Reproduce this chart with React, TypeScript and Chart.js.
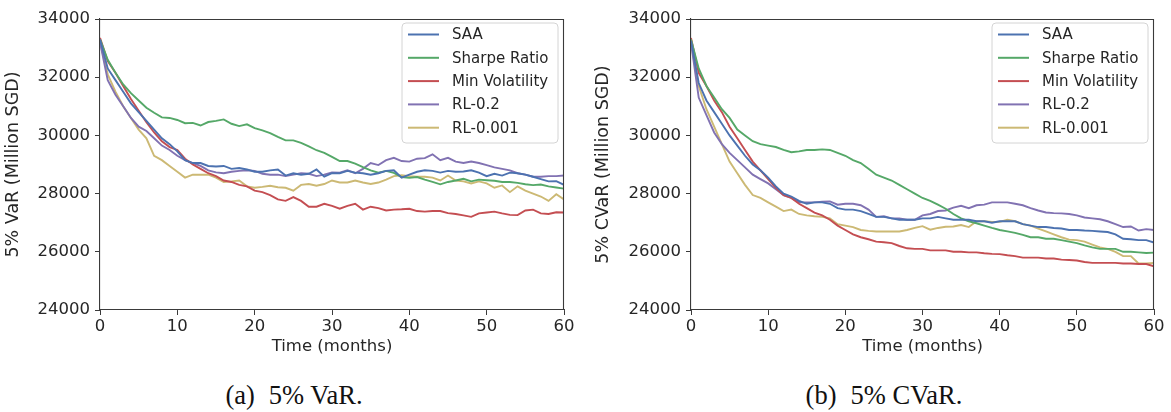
import React, { useEffect, useRef } from "react";
import { Chart, registerables } from "chart.js";

Chart.register(...registerables);

const months = [
  0, 1, 2, 3, 4, 5, 6, 7, 8, 9, 10, 11, 12, 13, 14, 15, 16, 17, 18, 19, 20,
  21, 22, 23, 24, 25, 26, 27, 28, 29, 30, 31, 32, 33, 34, 35, 36, 37, 38, 39, 40,
  41, 42, 43, 44, 45, 46, 47, 48, 49, 50, 51, 52, 53, 54, 55, 56, 57, 58, 59, 60,
];

const seriesNames = ["SAA", "Sharpe Ratio", "Min Volatility", "RL-0.2", "RL-0.001"];
const seriesColors = ["#4C72B0", "#55A868", "#C44E52", "#8172B2", "#CCB974"];

const yTicks = [24000, 26000, 28000, 30000, 32000, 34000];
const xTicks = [0, 10, 20, 30, 40, 50, 60];

// ---- 5% VaR ----
const varSAA = [
  33300, 32300, 31900, 31500, 31100, 30800, 30500, 30200, 29900, 29700, 29450,
  29150, 29050, 29050, 28950, 28930, 28950, 28850, 28880, 28830, 28750,
  28750, 28800, 28830, 28620, 28700, 28650, 28680, 28830, 28580, 28700,
  28700, 28780, 28720, 28700, 28650, 28700, 28780, 28800, 28550, 28650,
  28750, 28800, 28780, 28720, 28780, 28750, 28760, 28800, 28720, 28600,
  28680, 28620, 28720, 28700, 28650, 28580, 28500, 28420, 28430, 28300,
];
const varSharpe = [
  33300, 32600, 32150, 31750, 31450, 31200, 30950, 30780, 30620, 30600, 30530,
  30420, 30430, 30340, 30460, 30500, 30550, 30400, 30320, 30380, 30250,
  30170, 30080, 29950, 29830, 29830, 29740, 29620, 29490, 29400, 29260,
  29120, 29120, 29030, 28910, 28800, 28720, 28780, 28710, 28570, 28540,
  28570, 28480, 28400, 28320, 28400, 28450, 28510, 28420, 28480, 28460,
  28440, 28400, 28400, 28370, 28320, 28290, 28310, 28250, 28210, 28170,
];
const varMinVol = [
  33350, 32550, 32150, 31700, 31250, 30850, 30450, 30100, 29800, 29600, 29500,
  29200, 29000, 28850, 28700, 28600, 28450, 28400, 28300, 28250, 28100,
  28050, 27950, 27800, 27750, 27880, 27750, 27550, 27550, 27650, 27580,
  27480, 27580, 27650, 27450, 27550, 27500, 27420, 27450, 27460, 27480,
  27400, 27380, 27400, 27400, 27330, 27300, 27250, 27200, 27320, 27350,
  27380, 27320, 27270, 27260, 27420, 27450, 27320, 27300, 27360, 27350,
];
const varRL02 = [
  33200, 31900, 31400, 31000, 30600, 30300, 30150, 29900, 29650, 29500, 29300,
  29150, 29050, 28950, 28800, 28730, 28700, 28750, 28780, 28800, 28780,
  28680, 28650, 28650, 28600, 28650, 28700, 28680, 28600, 28650, 28730,
  28720, 28800, 28700, 28850, 29050, 28980, 29150, 29230, 29120, 29100,
  29200, 29220, 29350, 29150, 29230, 29100, 29050, 29100, 29050, 28980,
  28900, 28850, 28800, 28700, 28650, 28580, 28580, 28600, 28600, 28620,
];
const varRL0001 = [
  33200, 32100, 31500, 31000, 30600, 30200, 29900, 29300, 29150, 28950, 28750,
  28550, 28650, 28650, 28650, 28550, 28400, 28420, 28450, 28250, 28200,
  28230, 28270, 28220, 28200, 28100, 28300, 28330, 28270, 28330, 28450,
  28380, 28380, 28450, 28380, 28330, 28380, 28480, 28600, 28630, 28600,
  28580, 28580, 28550, 28450, 28620, 28450, 28420, 28350, 28420, 28350,
  28200, 28280, 28050, 28250, 28100, 28000, 27900, 27750, 27980, 27800,
];

// ---- 5% CVaR ----
const cvarSAA = [
  33250, 31800, 31200, 30800, 30400, 30000, 29650, 29300, 29000, 28800, 28550,
  28250, 28000, 27900, 27750, 27650, 27700, 27700, 27650, 27500, 27450,
  27450, 27400, 27300, 27200, 27200, 27150, 27100, 27100, 27100, 27150,
  27150, 27200, 27150, 27100, 27100, 27100, 27050, 27050, 27000, 27050,
  27050, 27050, 26950, 26900, 26850, 26850, 26820, 26800, 26750, 26750,
  26730, 26720, 26700, 26680, 26600, 26450, 26430, 26400, 26400, 26320,
];
const cvarSharpe = [
  33300, 32300, 31700, 31300, 30900, 30600, 30200, 30000, 29800, 29700, 29650,
  29600, 29500, 29420, 29450, 29500, 29500, 29520, 29500, 29400, 29300,
  29150, 29050, 28850, 28650, 28550, 28450, 28300, 28150, 28000, 27850,
  27750, 27620, 27480, 27300, 27150, 27050, 26980, 26900, 26820, 26750,
  26700, 26650, 26580, 26500, 26500, 26450, 26450, 26400, 26350, 26300,
  26220, 26150, 26100, 26100, 26100, 26000, 26000, 25980, 25960, 25970,
];
const cvarMinVol = [
  33350, 32150, 31700, 31200, 30800, 30300, 29900, 29500, 29100, 28800, 28500,
  28200, 27950, 27850, 27650, 27500, 27350, 27250, 27100, 26900, 26750,
  26600, 26500, 26430, 26350, 26330, 26300, 26200, 26120, 26100, 26100,
  26050, 26050, 26050, 26000, 26000, 25980, 25980, 25950, 25930, 25920,
  25880, 25850, 25800, 25800, 25800, 25770, 25770, 25730, 25720, 25700,
  25650, 25620, 25620, 25620, 25620, 25600, 25600, 25580, 25580, 25500,
];
const cvarRL02 = [
  33200, 31300, 30700, 30100, 29700, 29400, 29150, 28900, 28650, 28500, 28350,
  28150, 27950, 27850, 27700, 27700, 27700, 27720, 27730, 27620, 27650,
  27650, 27600, 27450, 27200, 27220, 27150, 27150, 27100, 27100, 27250,
  27300, 27400, 27420, 27520, 27580, 27500, 27600, 27620, 27700, 27700,
  27700, 27650, 27600, 27500, 27420, 27350, 27330, 27320, 27300, 27250,
  27180, 27150, 27120, 27050, 26950, 26850, 26870, 26730, 26780, 26750,
];
const cvarRL0001 = [
  33150, 31700, 30900, 30300, 29700, 29100, 28700, 28300, 27950, 27850, 27700,
  27550, 27400, 27450, 27300, 27250, 27220, 27200, 27150, 26950, 26900,
  26850, 26750, 26720, 26700, 26700, 26700, 26700, 26750, 26820, 26880,
  26760, 26820, 26860, 26870, 26920, 26850, 27050, 27050, 27030, 27030,
  27100, 27050, 26950, 26900, 26800, 26700, 26600, 26500, 26420, 26400,
  26350, 26250, 26150, 26100, 26000, 25850, 25850, 25600, 25600, 25620,
];

const varSeries = [varSAA, varSharpe, varMinVol, varRL02, varRL0001];
const cvarSeries = [cvarSAA, cvarSharpe, cvarMinVol, cvarRL02, cvarRL0001];

const SANS = "'DejaVu Sans', sans-serif";

const framePlugin = {
  id: "frameAndLegend",
  afterDatasetsDraw(chart: any) {
    const { ctx, chartArea } = chart;
    const { left, right, top, bottom } = chartArea;
    ctx.save();
    // top and right spines
    ctx.strokeStyle = "#3a3a3a";
    ctx.lineWidth = 1.1;
    ctx.beginPath();
    ctx.moveTo(left, top + 0.5);
    ctx.lineTo(right, top + 0.5);
    ctx.moveTo(right - 0.5, top);
    ctx.lineTo(right - 0.5, bottom);
    ctx.stroke();

    // legend box (upper right)
    const boxW = 156;
    const boxH = 120;
    const bx = right - 6 - boxW;
    const by = top + 4;
    const r = 4;
    ctx.beginPath();
    ctx.moveTo(bx + r, by);
    ctx.lineTo(bx + boxW - r, by);
    ctx.quadraticCurveTo(bx + boxW, by, bx + boxW, by + r);
    ctx.lineTo(bx + boxW, by + boxH - r);
    ctx.quadraticCurveTo(bx + boxW, by + boxH, bx + boxW - r, by + boxH);
    ctx.lineTo(bx + r, by + boxH);
    ctx.quadraticCurveTo(bx, by + boxH, bx, by + boxH - r);
    ctx.lineTo(bx, by + r);
    ctx.quadraticCurveTo(bx, by, bx + r, by);
    ctx.closePath();
    ctx.fillStyle = "rgba(255,255,255,0.85)";
    ctx.fill();
    ctx.strokeStyle = "#d4d4d4";
    ctx.lineWidth = 1;
    ctx.stroke();

    ctx.font = `15px ${SANS}`;
    ctx.textBaseline = "middle";
    ctx.textAlign = "left";
    chart.data.datasets.forEach((ds: any, i: number) => {
      const y = by + 11.5 + i * 23.3;
      ctx.strokeStyle = ds.borderColor;
      ctx.lineWidth = 2;
      ctx.beginPath();
      ctx.moveTo(bx + 6, y);
      ctx.lineTo(bx + 37, y);
      ctx.stroke();
      ctx.fillStyle = "#262626";
      ctx.fillText(ds.label, bx + 50, y + 1);
    });
    ctx.restore();
  },
};

function makeConfig(series: number[][], yTitle: string, yAxisWidth: number): any {
  return {
    type: "line",
    data: {
      datasets: series.map((vals, i) => ({
        label: seriesNames[i],
        data: months.map((m, j) => ({ x: m, y: vals[j] })),
        borderColor: seriesColors[i],
        backgroundColor: seriesColors[i],
        borderWidth: 1.9,
        pointRadius: 0,
        tension: 0,
        fill: false,
      })),
    },
    options: {
      responsive: false,
      animation: false,
      events: [],
      layout: { padding: { top: 19, right: 16, left: 0, bottom: 0 } },
      plugins: {
        legend: { display: false },
        tooltip: { enabled: false },
        title: { display: false },
      },
      scales: {
        x: {
          type: "linear",
          min: 0,
          max: 60,
          afterFit(scale: any) {
            scale.height = 55;
          },
          afterBuildTicks(scale: any) {
            scale.ticks = xTicks.map((v) => ({ value: v }));
          },
          grid: {
            drawOnChartArea: false,
            drawTicks: true,
            tickLength: 5,
            color: "#3a3a3a",
            lineWidth: 1,
          },
          border: { display: true, color: "#3a3a3a", width: 1.1 },
          ticks: {
            color: "#262626",
            font: { family: SANS, size: 16.5 },
            padding: 2,
            maxRotation: 0,
            autoSkip: false,
          },
          title: {
            display: true,
            text: "Time (months)",
            color: "#262626",
            font: { family: SANS, size: 16.5 },
            padding: { top: 0, bottom: 8 },
          },
        },
        y: {
          min: 24000,
          max: 34000,
          afterFit(scale: any) {
            scale.width = yAxisWidth;
          },
          afterBuildTicks(scale: any) {
            scale.ticks = yTicks.map((v) => ({ value: v }));
          },
          grid: {
            drawOnChartArea: false,
            drawTicks: true,
            tickLength: 5,
            color: "#3a3a3a",
            lineWidth: 1,
          },
          border: { display: true, color: "#3a3a3a", width: 1.1 },
          ticks: {
            color: "#262626",
            font: { family: SANS, size: 16.5 },
            padding: 5,
            autoSkip: false,
            callback: (v: any) => String(v),
          },
          title: {
            display: true,
            text: yTitle,
            color: "#262626",
            font: { family: SANS, size: 17.5 },
            padding: { top: 3, bottom: 0 },
          },
        },
      },
    },
    plugins: [framePlugin],
  };
}

function ChartPanel(props: {
  series: number[][];
  yTitle: string;
  left: number;
  yAxisWidth: number;
}) {
  const ref = useRef<HTMLCanvasElement | null>(null);
  useEffect(() => {
    if (!ref.current) return;
    const chart = new Chart(ref.current, makeConfig(props.series, props.yTitle, props.yAxisWidth));
    return () => chart.destroy();
  }, []);
  return (
    <canvas
      ref={ref}
      width={580}
      height={365}
      style={{ position: "absolute", left: props.left, top: 0, width: 580, height: 365 }}
    />
  );
}

const captionStyle: React.CSSProperties = {
  position: "absolute",
  top: 380,
  fontFamily: "'Liberation Serif', 'Times New Roman', serif",
  fontSize: 26.5,
  color: "#111",
  whiteSpace: "nowrap",
  transform: "translateX(-50%)",
  lineHeight: "30px",
};

export default function App() {
  return (
    <div
      style={{
        position: "absolute",
        left: 0,
        top: 0,
        width: 1171,
        height: 412,
        background: "#fff",
        overflow: "hidden",
      }}
    >
      <ChartPanel series={varSeries} yTitle="5% VaR (Million SGD)" left={0} yAxisWidth={100} />
      <ChartPanel series={cvarSeries} yTitle="5% CVaR (Million SGD)" left={590} yAxisWidth={101} />
      <div style={{ ...captionStyle, left: 294 }}>
        (a)<span style={{ marginLeft: 14 }}>5% VaR.</span>
      </div>
      <div style={{ ...captionStyle, left: 884 }}>
        (b)<span style={{ marginLeft: 14 }}>5% CVaR.</span>
      </div>
    </div>
  );
}
